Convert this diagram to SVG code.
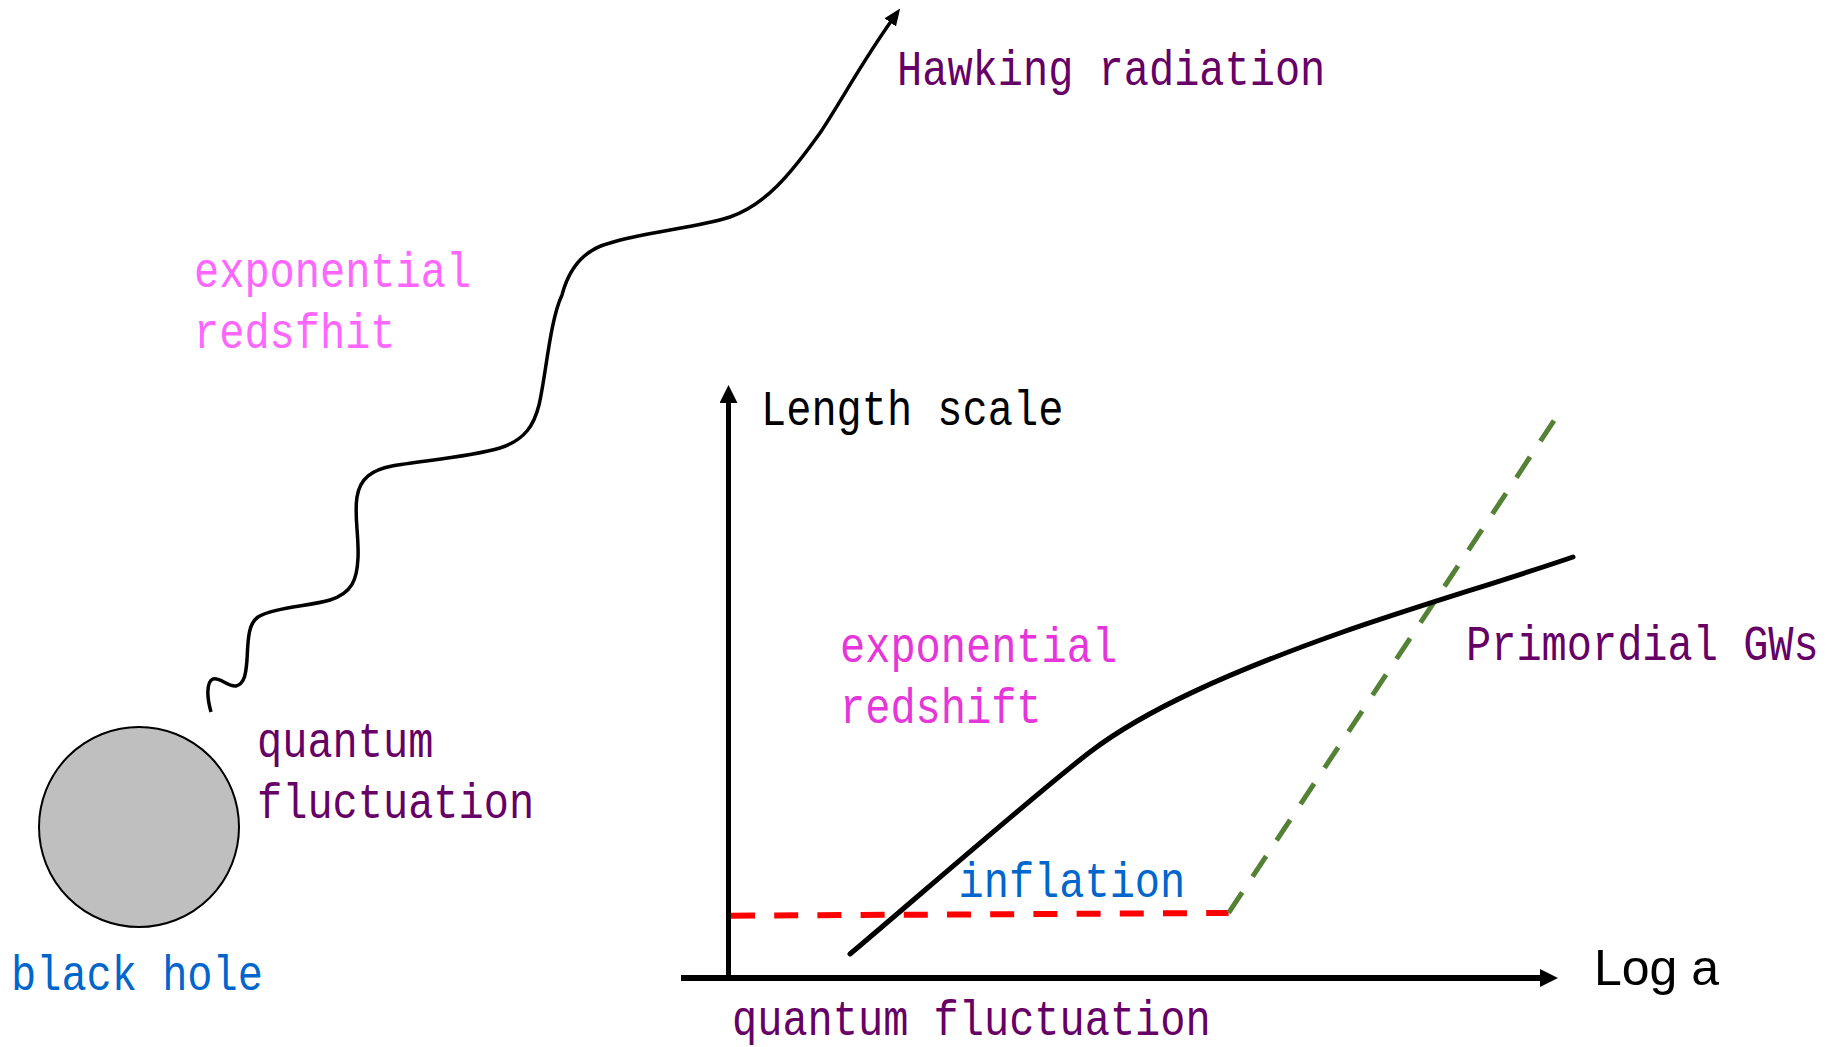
<svg xmlns="http://www.w3.org/2000/svg" width="1841" height="1047" viewBox="0 0 1841 1047">
  <style>
    .mono { font-family: "Liberation Mono", "DejaVu Sans Mono", monospace; font-size: 50px; }
    .sans { font-family: "Liberation Sans", Arial, sans-serif; font-size: 50px; }
    .purple { fill: #660066; }
    .blue { fill: #0066cc; }
    .magenta { fill: #e635d9; }
    .pink { fill: #ff66ff; }
    .black { fill: #000000; }
    .axis { stroke: #000; fill: none; }
  </style>
  <defs>
    <marker id="axisArrow" markerUnits="userSpaceOnUse" markerWidth="20" markerHeight="20" refX="1" refY="9" orient="auto">
      <path d="M0,0 L18,9 L0,18 z" fill="#000"/>
    </marker>
    <marker id="waveArrow" markerUnits="userSpaceOnUse" markerWidth="20" markerHeight="16" refX="3" refY="7" orient="auto">
      <path d="M0,0 L17,7 L0,14 z" fill="#000"/>
    </marker>
  </defs>
  <rect width="1841" height="1047" fill="#ffffff"/>

  <g id="black-hole">
    <circle cx="139" cy="827" r="100" fill="#bfbfbf" stroke="#000" stroke-width="2"/>
    <text class="mono blue" transform="translate(11,990) scale(0.84,1)">black hole</text>
  </g>

  <g id="hawking-label">
    <text class="mono purple" transform="translate(897,85) scale(0.84,1)">Hawking radiation</text>
  </g>

  <g id="redshift-label-left">
    <text class="mono pink" transform="translate(194,287) scale(0.84,1)">exponential</text>
    <text class="mono pink" transform="translate(194,348) scale(0.84,1)">redsfhit</text>
  </g>

  <g id="quantum-label-left">
    <text class="mono purple" transform="translate(257,757) scale(0.84,1)">quantum</text>
    <text class="mono purple" transform="translate(257,818) scale(0.84,1)">fluctuation</text>
  </g>

  <g id="axes">
    <line class="axis" x1="728.5" y1="981" x2="728.5" y2="402" stroke-width="5" marker-end="url(#axisArrow)"/>
    <line class="axis" x1="681" y1="978" x2="1541" y2="978" stroke-width="6" marker-end="url(#axisArrow)"/>
    <text class="mono black" transform="translate(761,425) scale(0.84,1)">Length scale</text>
    <text class="sans black" x="1594" y="985">Log a</text>
  </g>

  <g id="chart-curves">
    <path d="M 731,915.7 L 1228.6,913" fill="none" stroke="#ff0000" stroke-width="6" stroke-dasharray="24 19.2"/>
    <path d="M 1554,420.7 L 1228.6,913" fill="none" stroke="#548235" stroke-width="5" stroke-dasharray="24.6 18.9"/>
    <path d="M 850,954 C 905,908 1040,790 1090,752 C 1145,710 1230,672 1340,633 C 1420,605 1500,582 1573,557" fill="none" stroke="#000" stroke-width="5" stroke-linecap="round"/>
  </g>

  <g id="chart-labels">
    <text class="mono magenta" transform="translate(840,662) scale(0.84,1)">exponential</text>
    <text class="mono magenta" transform="translate(840,723) scale(0.84,1)">redshift</text>
    <text class="mono purple" transform="translate(1466,660) scale(0.84,1)">Primordial GWs</text>
    <text class="mono blue" transform="translate(958.5,897) scale(0.84,1)">inflation</text>
    <text class="mono purple" transform="translate(732,1035) scale(0.84,1)">quantum fluctuation</text>
  </g>

  <g id="connectors">
    <path d="M 211,712 C 207,698 206,682 213,679 C 220,677 228,687 236,686 C 245,684 246,672 247,660 C 248,640 248,624 258,617 C 272,608 310,606 330,600 C 352,593 357,580 358,558 C 359,535 354,515 357,497 C 360,478 372,470 392,466 C 420,461 470,457 500,448 C 525,440 534,425 539,405 C 546,375 550,320 562,295 C 568,272 582,250 610,243 C 640,233 700,227 730,217 C 765,205 790,175 820,133 C 840,103 862,62 892,20" fill="none" stroke="#000" stroke-width="3.5" marker-end="url(#waveArrow)"/>
  </g>
</svg>
